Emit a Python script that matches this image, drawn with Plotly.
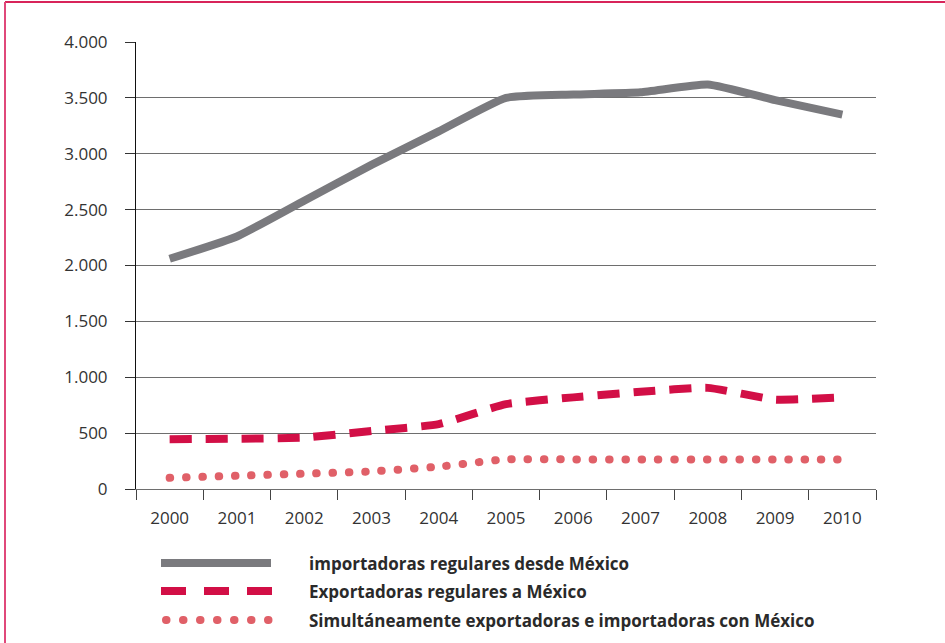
import plotly.graph_objects as go

years = ["2000", "2001", "2002", "2003", "2004", "2005", "2006", "2007", "2008", "2009", "2010"]
importadoras = [2060, 2260, 2580, 2900, 3200, 3500, 3530, 3550, 3620, 3480, 3350]
exportadoras = [445, 450, 460, 520, 580, 760, 820, 870, 905, 800, 820]
simultaneas = [100, 118, 137, 157, 200, 265, 265, 265, 265, 265, 265]
series_names = [
    "importadoras regulares desde México",
    "Exportadoras regulares a México",
    "Simultáneamente exportadoras e importadoras con México",
]

W, H = 945, 643
L, R, T, B = 136, 69, 42, 154
PW, PH = W - L - R, H - T - B

def px_x(x):
    return (x - L) / PW

def px_y(y):
    return (H - B - y) / PH

GRAY = "#7a7a7e"
RED = "#d20f46"
DOT = "#e06068"
BORDER = "#e0487a"

styles = [
    dict(color=GRAY, width=8, dash="solid"),
    dict(color=RED, width=8, dash="22px,14px"),
    dict(color=DOT, width=8, dash="0.5px,15.8px"),
]
legend_styles = [
    dict(color=GRAY, width=8, dash="solid", x0=161, x1=271),
    dict(color=RED, width=8, dash="25px,18px", x0=161, x1=272),
    dict(color=DOT, width=8, dash="0.5px,16.5px", x0=166, x1=268.5),
]

fig = go.Figure()
for name, vals, st in zip(series_names, [importadoras, exportadoras, simultaneas], styles):
    fig.add_trace(go.Scatter(
        x=years, y=vals, name=name, mode="lines",
        line=dict(color=st["color"], width=st["width"], dash=st["dash"], shape="spline", smoothing=0.45),
        showlegend=False, hoverinfo="skip",
    ))

shapes = []
# border (top & left)
shapes.append(dict(type="line", xref="paper", yref="paper", x0=px_x(5), x1=px_x(945), y0=px_y(2), y1=px_y(2),
                   line=dict(color="#d8245a", width=2)))
shapes.append(dict(type="line", xref="paper", yref="paper", x0=px_x(5), x1=px_x(5), y0=px_y(2), y1=px_y(643),
                   line=dict(color=BORDER, width=2)))

annotations = []
legend_rows = [563, 591, 620]
for name, st, ry in zip(series_names, legend_styles, legend_rows):
    shapes.append(dict(type="line", xref="paper", yref="paper", x0=px_x(st["x0"]), x1=px_x(st["x1"]),
                       y0=px_y(ry), y1=px_y(ry),
                       line=dict(color=st["color"], width=st["width"], dash=st["dash"])))
    annotations.append(dict(xref="paper", yref="paper", x=px_x(307), y=px_y(ry), xanchor="left", yanchor="middle",
                            text="<b>" + name + "</b>", showarrow=False,
                            font=dict(family="Open Sans, sans-serif", size=17, color="#2a2a2a")))

fig.update_layout(
    width=W, height=H,
    margin=dict(l=L, r=R, t=T, b=B, pad=0),
    paper_bgcolor="white", plot_bgcolor="white",
    separators=",.",
    font=dict(family="Open Sans, sans-serif", size=17, color="#333"),
    shapes=shapes, annotations=annotations,
    showlegend=False, hovermode=False,
)
fig.update_yaxes(
    range=[0, 4000], dtick=500, tickformat=",d",
    showgrid=True, gridcolor="#6e6e6e", gridwidth=1,
    showline=True, linecolor="#111", linewidth=1,
    ticks="outside", ticklen=10, tickcolor="#333",
    zeroline=False, ticklabelstandoff=14,
)
fig.update_xaxes(
    type="category", range=[-0.5, 10.5], tickson="boundaries",
    showgrid=False, showline=True, linecolor="#6e6e6e", linewidth=1,
    ticks="outside", ticklen=10, tickcolor="#444", ticklabelstandoff=14,
)

post = """
document.body.style.margin = '0';
document.body.style.padding = '0';
var gd = document.getElementById('{plot_id}');
function fixCaps(){
  gd.querySelectorAll('path').forEach(function(p){
    var s = p.style.stroke || '';
    if (s.replace(/\\s/g,'') === 'rgb(224,96,104)') { p.style.strokeLinecap = 'round'; }
  });
}
fixCaps();
if (gd.on) { gd.on('plotly_afterplot', fixCaps); }
"""

fig.write_html("out.html", post_script=post, config={"displayModeBar": False})
